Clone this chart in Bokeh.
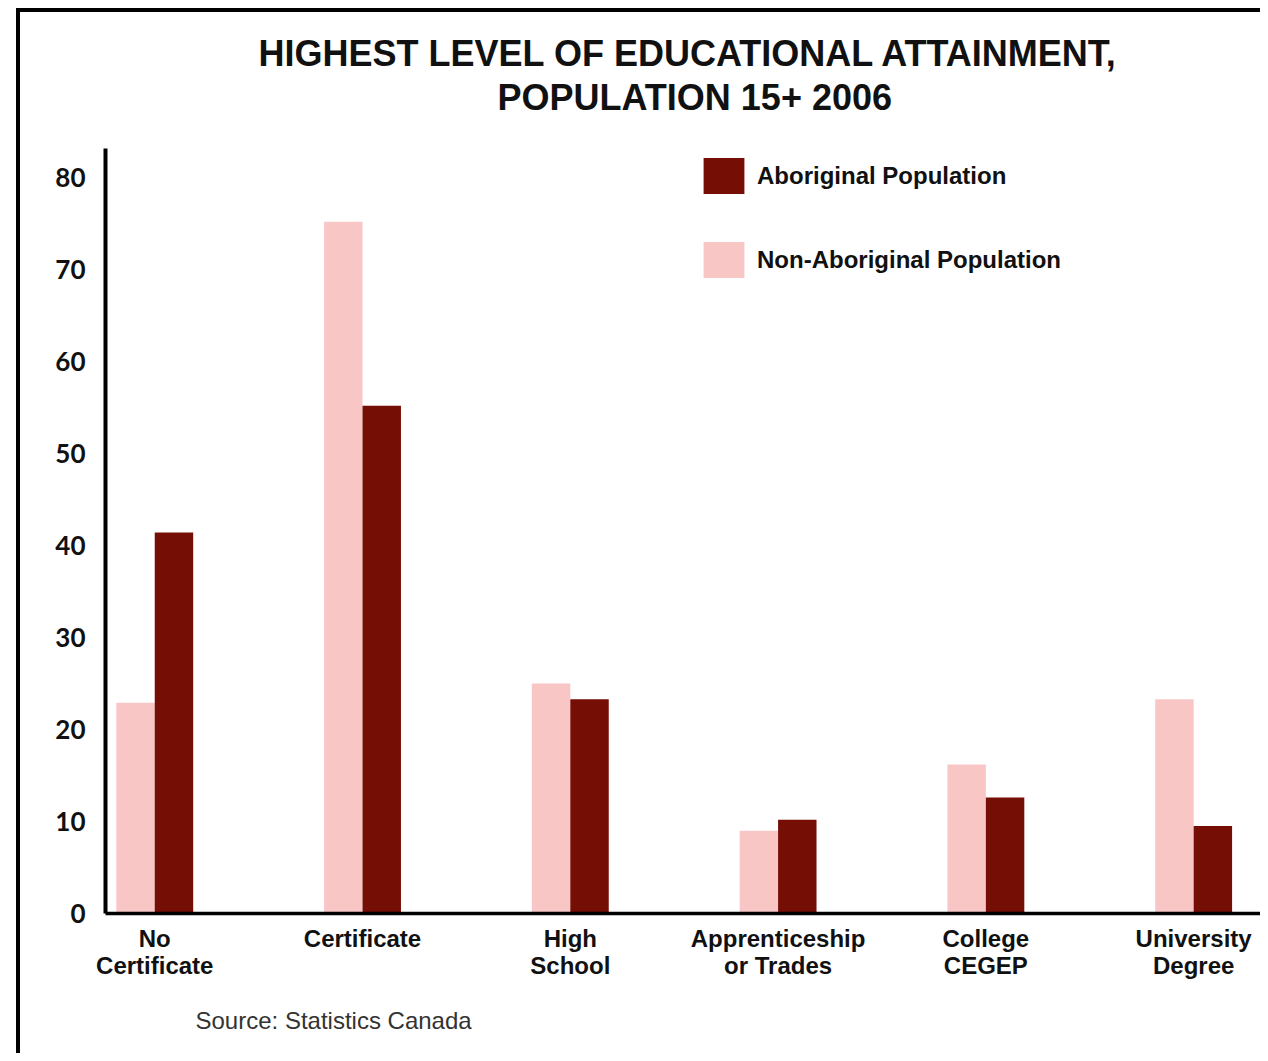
import numpy as np
from bokeh.plotting import figure
from bokeh.models import ColumnDataSource, Range1d, FixedTicker, Legend, LegendItem, Title
from bokeh.transform import dodge
from bokeh.embed import file_html
from bokeh.resources import INLINE

# ---- data ----
categories = ["No\nCertificate", "Certificate", "High\nSchool",
              "Apprenticeship\nor Trades", "College\nCEGEP", "University\nDegree"]
aboriginal = [41.4, 55.2, 23.3, 10.2, 12.6, 9.5]
non_aboriginal = [22.9, 75.2, 25.0, 9.0, 16.2, 23.3]
y_ticks = [0, 10, 20, 30, 40, 50, 60, 70, 80]

idx = list(range(len(categories)))
src = ColumnDataSource(dict(x=idx, abo=aboriginal, non=non_aboriginal))

PINK = "#F9C6C6"
DARK = "#750E05"

p = figure(width=1244, height=1045, output_backend="svg", toolbar_location=None, title=None,
           x_range=Range1d(-0.237, 5.341), y_range=Range1d(0, 83.15),
           min_border_left=85, min_border_top=136, min_border_bottom=144, min_border_right=0)
p.styles = {"border-top": "4px solid #000", "border-left": "4px solid #000",
            "margin-left": "16px", "margin-top": "8px"}
p.outline_line_color = None
p.xgrid.grid_line_color = None
p.ygrid.grid_line_color = None
p.background_fill_color = "white"
p.border_fill_color = "white"

bw = 0.185
r_non = p.vbar(x=dodge("x", -0.0925), top="non", width=bw, source=src,
               fill_color=PINK, line_color=None)
r_abo = p.vbar(x=dodge("x", 0.0925), top="abo", width=bw, source=src,
               fill_color=DARK, line_color=None)

# axes
p.yaxis.ticker = FixedTicker(ticks=y_ticks)
p.yaxis.axis_line_width = 4
p.yaxis.axis_line_color = "black"
p.yaxis.major_tick_line_color = None
p.yaxis.minor_tick_line_color = None
p.yaxis.major_label_text_font = "Lato"
p.yaxis.major_label_text_font_style = "bold"
p.yaxis.major_label_text_font_size = "26px"
p.yaxis.major_label_text_color = "#111111"
p.yaxis.major_label_standoff = 14

p.xaxis.ticker = FixedTicker(ticks=idx)
p.xaxis.major_label_overrides = {i: c for i, c in zip(idx, categories)}
p.xaxis.axis_line_width = 3.5
p.xaxis.axis_line_color = "black"
p.xaxis.major_tick_line_color = None
p.xaxis.minor_tick_line_color = None
p.xaxis.major_label_text_font = "Liberation Sans"
p.xaxis.major_label_text_font_style = "bold"
p.xaxis.major_label_text_font_size = "24px"
p.xaxis.major_label_text_color = "#111111"
p.xaxis.major_label_text_line_height = 1.0
p.xaxis.major_label_standoff = 5

# legend
legend = Legend(items=[LegendItem(label="Aboriginal Population", renderers=[r_abo]),
                       LegendItem(label="Non-Aboriginal Population", renderers=[r_non])],
                location=(593, 631), orientation="vertical",
                glyph_width=51, glyph_height=45, spacing=39, label_standoff=8,
                padding=0, margin=0, border_line_color=None, background_fill_alpha=0,
                label_text_font="Liberation Sans", label_text_font_style="bold",
                label_text_font_size="24px", label_text_color="#111111",
                label_text_baseline="middle")
p.add_layout(legend, "center")

# title and source
tkw = dict(align="left", text_font="Liberation Sans", text_font_style="bold",
           text_font_size="36px", text_color="#111111")
p.add_layout(Title(text="POPULATION 15+ 2006", standoff=62, offset=392, **tkw), "above")
p.add_layout(Title(text="HIGHEST LEVEL OF EDUCATIONAL ATTAINMENT,", standoff=-61, offset=153, **tkw), "above")
p.add_layout(Title(text="Source: Statistics Canada", align="left", offset=90, standoff=46,
                   text_font="Liberation Sans", text_font_style="normal",
                   text_font_size="24px", text_color="#333333"), "below")

open("out.html", "w").write(file_html(p, INLINE))
